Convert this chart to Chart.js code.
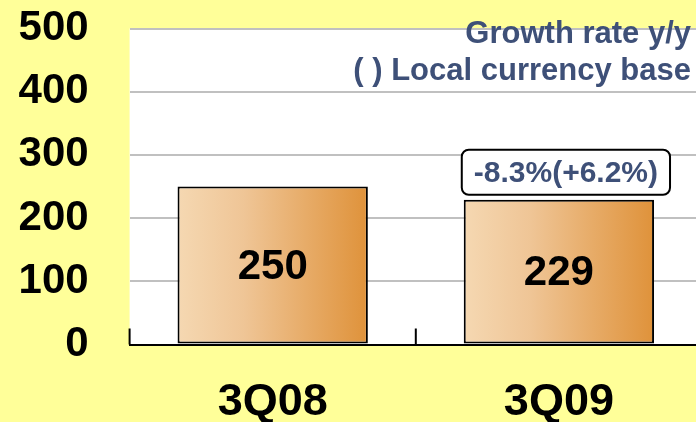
<!DOCTYPE html>
<html>
<head>
<meta charset="utf-8">
<script src="https://cdn.jsdelivr.net/npm/chart.js@4/dist/chart.umd.min.js"></script>
<style>
  html, body { margin: 0; padding: 0; background: #FFFF99; overflow: hidden; }
  #wrap { width: 702px; height: 422px; position: relative; }
</style>
</head>
<body>
<div id="wrap"><canvas id="c" width="702" height="422"></canvas></div>
<script>
// ---- data ----
const categories = ['3Q08', '3Q09'];
const salesValues = [250, 229];
const growthLabels = ['', '-8.3%(+6.2%)'];
const yTicks = [0, 100, 200, 300, 400, 500];
const noteLines = ['Growth rate y/y', '( ) Local currency base'];

const FONT = '"Liberation Sans", Arial, Helvetica, sans-serif';
const NAVY = '#3E5078';

function barGradient(ctx) {
  const chart = ctx.chart;
  const xs = chart.scales.x;
  if (!xs || ctx.dataIndex === undefined) return '#E8B070';
  const center = xs.getPixelForValue(ctx.dataIndex);
  const catW = xs.width / categories.length;
  const half = catW * 0.665 / 2;
  if (!isFinite(center) || !isFinite(half) || half <= 0) return '#E8B070';
  const g = chart.ctx.createLinearGradient(center - half, 0, center + half, 0);
  g.addColorStop(0, '#F5D8B2');
  g.addColorStop(0.35, '#EFC596');
  g.addColorStop(1, '#DF923A');
  return g;
}

const decoPlugin = {
  id: 'deco',
  beforeDraw(chart) {
    const { ctx, chartArea: a } = chart;
    ctx.save();
    ctx.fillStyle = '#FFFF99';
    ctx.fillRect(0, 0, chart.width, chart.height);
    ctx.fillStyle = '#FFFFFF';
    ctx.fillRect(a.left, a.top, a.right - a.left, a.bottom - a.top);
    ctx.restore();
  },
  afterDraw(chart) {
    const { ctx, chartArea: a } = chart;
    const xs = chart.scales.x;
    const meta = chart.getDatasetMeta(0);
    ctx.save();
    ctx.strokeStyle = '#000';
    ctx.lineWidth = 2;
    for (let i = 0; i < categories.length; i++) {
      let bx = i === 0 ? a.left : (xs.getPixelForValue(i - 1) + xs.getPixelForValue(i)) / 2;
      ctx.beginPath();
      ctx.moveTo(bx, a.bottom);
      ctx.lineTo(bx, a.bottom - 16);
      ctx.stroke();
    }
    ctx.fillStyle = '#000';
    ctx.font = 'bold 42px ' + FONT;
    ctx.textAlign = 'center';
    ctx.textBaseline = 'middle';
    meta.data.forEach((el, i) => {
      ctx.fillText(String(salesValues[i]), el.x, (el.y + el.base) / 2 + 2);
    });
    ctx.font = 'bold 30px ' + FONT;
    meta.data.forEach((el, i) => {
      const t = growthLabels[i];
      if (!t) return;
      const w = ctx.measureText(t).width + 24;
      const h = 45;
      const cx = el.x + 7;
      const bottom = el.y - 5;
      const x0 = cx - w / 2, y0 = bottom - h;
      ctx.beginPath();
      ctx.roundRect(x0, y0, w, h, 7);
      ctx.fillStyle = '#FFFFFF';
      ctx.fill();
      ctx.lineWidth = 2;
      ctx.strokeStyle = '#000';
      ctx.stroke();
      ctx.fillStyle = NAVY;
      ctx.fillText(t, cx, y0 + h / 2 + 1);
    });
    ctx.font = 'bold 31px ' + FONT;
    ctx.textAlign = 'right';
    ctx.fillStyle = NAVY;
    ctx.fillText(noteLines[0], 691, 34);
    ctx.fillText(noteLines[1], 691, 71);
    ctx.restore();
  }
};

new Chart(document.getElementById('c'), {
  type: 'bar',
  data: {
    labels: categories,
    datasets: [{
      data: salesValues,
      backgroundColor: barGradient,
      borderColor: '#000',
      borderWidth: 2,
      borderSkipped: false,
      categoryPercentage: 1,
      barPercentage: 0.665
    }]
  },
  options: {
    responsive: false,
    animation: false,
    devicePixelRatio: 1,
    layout: { padding: { top: 28.5, left: 0, right: 0, bottom: 0 } },
    plugins: { legend: { display: false }, tooltip: { enabled: false } },
    scales: {
      x: {
        grid: { display: false },
        border: { display: true, color: '#000', width: 2 },
        ticks: { color: '#000', font: { family: FONT, size: 45, weight: 'bold' }, padding: 23, maxRotation: 0 },
        afterFit(s) { s.height = 77.5; s.paddingLeft = 0; s.paddingRight = 0; }
      },
      y: {
        min: 0, max: 500,
        afterBuildTicks(s) { s.ticks = yTicks.map(v => ({ value: v })); },
        grid: { color: '#C0C0C0', lineWidth: 2, drawTicks: false },
        border: { display: false },
        ticks: { color: '#000', font: { family: FONT, size: 42, weight: 'bold' }, padding: 41 },
        afterFit(s) { s.width = 129.6; s.paddingTop = 0; s.paddingBottom = 0; }
      }
    }
  },
  plugins: [decoPlugin]
});
</script>
</body>
</html>
